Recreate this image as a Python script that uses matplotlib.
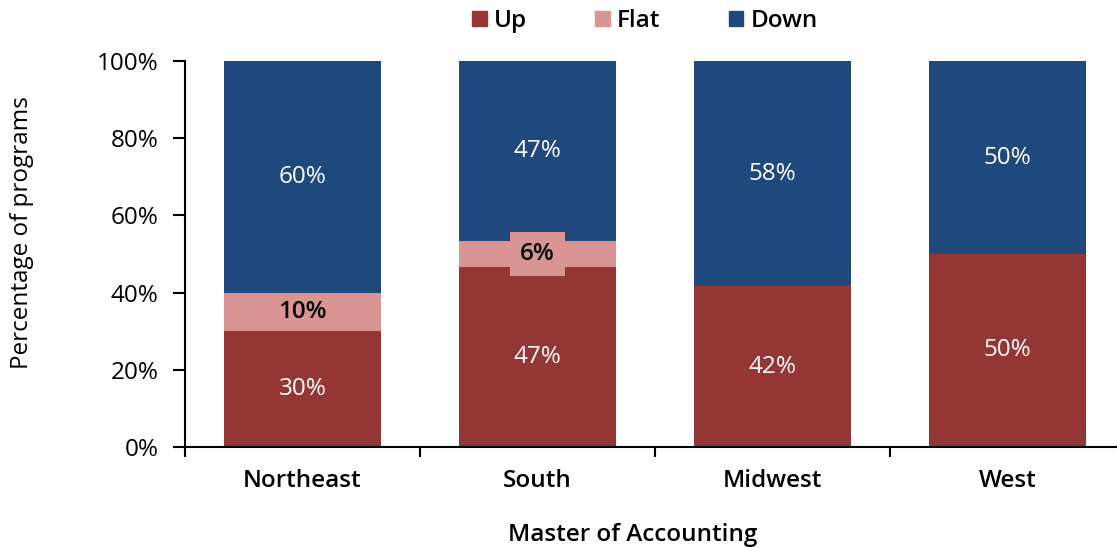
import numpy as np
import matplotlib.pyplot as plt
from matplotlib.patches import Patch

regions = ["Northeast", "South", "Midwest", "West"]
up = [30, 46.67, 41.67, 50]
flat = [10, 6.67, 0, 0]
down = [60, 46.67, 58.33, 50]
up_labels = ["30%", "47%", "42%", "50%"]
flat_labels = ["10%", "6%", "", ""]
down_labels = ["60%", "47%", "58%", "50%"]

c_up = "#943634"
c_flat = "#D99594"
c_down = "#1F497D"

plt.rcParams['font.family'] = ['Open Sans', 'DejaVu Sans']

fig = plt.figure(figsize=(11.17, 5.48), dpi=100)
ax = fig.add_axes([185 / 1117, 1 - 447 / 548, 940 / 1117, 386 / 548])

x = np.arange(len(regions))
w = 0.672
up = np.array(up)
flat = np.array(flat)
down = np.array(down)
ax.bar(x, up, w, color=c_up)
ax.bar(x, flat, w, bottom=up, color=c_flat)
ax.bar(x, down, w, bottom=up + flat, color=c_down)

fs = 17.5
vfs = 17.5
for i in range(len(regions)):
    ax.text(x[i], up[i] / 2, up_labels[i], ha='center', va='center',
            color='white', fontsize=vfs, fontweight='medium')
    if flat_labels[i]:
        t = ax.text(x[i], up[i] + flat[i] / 2, flat_labels[i], ha='center',
                    va='center', color='black', fontsize=vfs, fontweight='semibold')
        if flat[i] < 8:
            t.set_bbox(dict(facecolor=c_flat, edgecolor='none',
                            boxstyle='square,pad=0.4'))
    ax.text(x[i], up[i] + flat[i] + down[i] / 2, down_labels[i], ha='center',
            va='center', color='white', fontsize=vfs, fontweight='medium')

ax.set_xlim(-0.5, 3.5)
ax.set_ylim(0, 100)
ax.set_yticks(np.arange(0, 101, 20))
ax.set_yticklabels([f"{v}%" for v in range(0, 101, 20)], fontsize=fs)
ax.set_xticks(x)
ax.set_xticklabels(regions, fontsize=fs, fontweight='semibold')
ax.set_xticks([-0.5, 0.5, 1.5, 2.5], minor=True)
ax.tick_params(axis='x', which='major', length=0, pad=16)
ax.tick_params(axis='x', which='minor', length=7, width=1.5, direction='out')
ax.tick_params(axis='y', length=9, width=1.5, direction='out', pad=10)

for s in ['top', 'right']:
    ax.spines[s].set_visible(False)
ax.spines['left'].set_linewidth(1.5)
ax.spines['bottom'].set_linewidth(1.5)

fig.text(22 / 1117, 1 - 233 / 548, "Percentage of programs", fontsize=fs,
         rotation=90, ha='center', va='center')
fig.text(633 / 1117, 1 - 535 / 548, "Master of Accounting", fontsize=fs,
         fontweight='semibold', ha='center', va='center')

handles = [Patch(color=c_up, label="Up"), Patch(color=c_flat, label="Flat"),
           Patch(color=c_down, label="Down")]
leg = fig.legend(handles=handles, loc='center', bbox_to_anchor=(645 / 1117, 1 - 21 / 548),
                 ncol=3, frameon=False, fontsize=17.5, handlelength=0.6, handleheight=0.6,
                 handletextpad=0.3, columnspacing=2.8)
for t in leg.get_texts():
    t.set_fontweight('semibold')

fig.savefig("out.png", dpi=100)
